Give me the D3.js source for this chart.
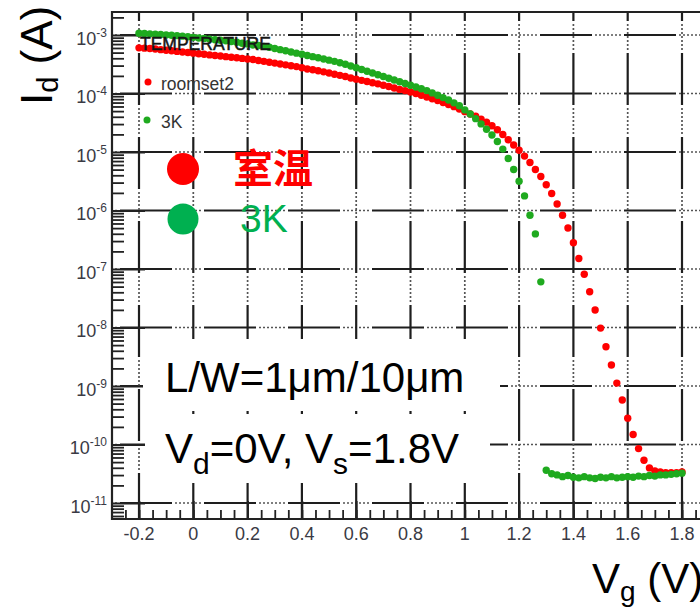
<!DOCTYPE html>
<html><head><meta charset="utf-8">
<script src="https://cdn.jsdelivr.net/npm/d3@7"></script>
<style>body{margin:0;background:#fff}svg{display:block}</style>
</head><body><svg id="c" width="700" height="608"></svg>
<script>
// ---- data ----
const vg = [-0.2,-0.18,-0.16,-0.14,-0.12,-0.1,-0.08,-0.06,-0.04,-0.02,0,0.02,0.04,0.06,0.08,0.1,0.12,0.14,0.16,0.18,0.2,0.22,0.24,0.26,0.28,0.3,0.32,0.34,0.36,0.38,0.4,0.42,0.44,0.46,0.48,0.5,0.52,0.54,0.56,0.58,0.6,0.62,0.64,0.66,0.68,0.7,0.72,0.74,0.76,0.78,0.8,0.82,0.84,0.86,0.88,0.9,0.92,0.94,0.96,0.98,1,1.02,1.04,1.06,1.08,1.1,1.12,1.14,1.16,1.18,1.2,1.22,1.24,1.26,1.28,1.3,1.32,1.34,1.36,1.38,1.4,1.42,1.44,1.46,1.48,1.5,1.52,1.54,1.56,1.58,1.6,1.62,1.64,1.66,1.68,1.7,1.72,1.74,1.76,1.78,1.8];
// log10(Id [A])
const logIdRoom = [-3.22,-3.225,-3.23,-3.24,-3.25,-3.26,-3.27,-3.28,-3.29,-3.30,-3.31,-3.32,-3.33,-3.34,-3.35,-3.36,-3.37,-3.38,-3.39,-3.40,-3.41,-3.42,-3.435,-3.45,-3.465,-3.48,-3.495,-3.51,-3.525,-3.54,-3.56,-3.58,-3.595,-3.61,-3.63,-3.65,-3.67,-3.69,-3.71,-3.735,-3.755,-3.775,-3.795,-3.815,-3.835,-3.86,-3.88,-3.905,-3.93,-3.95,-3.975,-4.00,-4.03,-4.06,-4.09,-4.12,-4.155,-4.19,-4.225,-4.265,-4.31,-4.35,-4.39,-4.44,-4.49,-4.55,-4.62,-4.70,-4.79,-4.88,-4.97,-5.07,-5.18,-5.30,-5.42,-5.56,-5.71,-5.89,-6.08,-6.30,-6.55,-6.82,-7.09,-7.39,-7.70,-8.01,-8.33,-8.64,-8.95,-9.24,-9.55,-9.83,-10.07,-10.27,-10.40,-10.45,-10.47,-10.48,-10.48,-10.48,-10.47];
const logId3K = [-2.97,-2.975,-2.98,-2.985,-2.99,-3.00,-3.005,-3.01,-3.02,-3.03,-3.04,-3.05,-3.06,-3.07,-3.08,-3.09,-3.10,-3.11,-3.125,-3.14,-3.155,-3.17,-3.18,-3.195,-3.21,-3.23,-3.25,-3.27,-3.29,-3.31,-3.33,-3.35,-3.37,-3.39,-3.41,-3.43,-3.45,-3.475,-3.50,-3.53,-3.56,-3.59,-3.62,-3.65,-3.68,-3.71,-3.74,-3.77,-3.80,-3.83,-3.86,-3.89,-3.92,-3.95,-3.99,-4.03,-4.07,-4.11,-4.16,-4.21,-4.28,-4.35,-4.43,-4.52,-4.61,-4.71,-4.82,-4.95,-5.11,-5.30,-5.50,-5.75,-6.08,-6.40,-7.22,-10.44,-10.50,-10.52,-10.55,-10.53,-10.56,-10.57,-10.55,-10.57,-10.58,-10.56,-10.57,-10.55,-10.57,-10.56,-10.55,-10.56,-10.54,-10.55,-10.53,-10.54,-10.52,-10.52,-10.51,-10.50,-10.49];
const xTicks = [-0.2,0,0.2,0.4,0.6,0.8,1,1.2,1.4,1.6,1.8];
const xTickLabels = ["-0.2","0","0.2","0.4","0.6","0.8","1","1.2","1.4","1.6","1.8"];
const yExponents = [-3,-4,-5,-6,-7,-8,-9,-10,-11];
const seriesNames = ["roomset2","3K"];
const legendHeader = "TEMPERATURE";
const bigLegendLabels = ["室温","3K"];
const noteLine1 = "L/W=1μm/10μm";

// ---- layout ----
const svg = d3.select("#c");
const L = 112, T = 12, B = 519, R = 712;
const x = d3.scaleLinear().domain([-0.2, 1.8]).range([139, 682]);
const y = d3.scaleLog().domain([1e-3, 1e-11]).range([35, 503]);

svg.append("rect").attr("width",700).attr("height",608).attr("fill","#fff");

// ---- grid (long dash + dotted pattern) ----
const solidDash = "52,32";
const dotDash = "0,55,2,2,2,2,2,2,2,2,2,2,2,2,2,3";
const grid = svg.append("g");
function gridLine(x1,y1,x2,y2,off){
  grid.append("line").attr("x1",x1).attr("y1",y1).attr("x2",x2).attr("y2",y2)
    .attr("stroke","#1e1e1e").attr("stroke-width",2.2).attr("stroke-dasharray",solidDash).attr("stroke-dashoffset",off);
  grid.append("line").attr("x1",x1).attr("y1",y1).attr("x2",x2).attr("y2",y2)
    .attr("stroke","#555").attr("stroke-width",1.7).attr("stroke-dasharray",dotDash).attr("stroke-dashoffset",off);
}
yExponents.forEach(e => { const yy = y(Math.pow(10,e)); gridLine(L, yy, R, yy, 76); });
xTicks.forEach(v => { const xx = x(v); gridLine(xx, T, xx, B, 43); });

// ---- axes ticks ----
const minorY = [];
for (let e = -12; e <= -3; e++) for (let m = 2; m <= 9; m++) {
  const v = m*Math.pow(10,e); const p = y(v); if (p > T+1 && p < B-1) minorY.push(v);
}
const majorY = yExponents.map(e => Math.pow(10,e));
function styleAxis(g){ g.select(".domain").remove(); g.selectAll("line").attr("stroke","#222").attr("stroke-width",1.8); g.selectAll("text").remove(); }
svg.append("g").attr("transform",`translate(${L},0)`).call(d3.axisLeft(y).tickValues(minorY).tickSize(-12).tickFormat("")).call(styleAxis);
svg.append("g").attr("transform",`translate(${L},0)`).call(d3.axisLeft(y).tickValues(majorY).tickSize(-33).tickFormat("")).call(styleAxis);
const minorX = [];
for (let k = -5; k <= 37; k++) { const v = k*0.05; const p = x(v); if (p > L+2 && p < R) minorX.push(v); }
svg.append("g").attr("transform",`translate(0,${B})`).call(d3.axisBottom(x).tickValues(minorX).tickSize(-9).tickFormat("")).call(styleAxis);
svg.append("g").attr("transform",`translate(0,${B})`).call(d3.axisBottom(x).tickValues(xTicks).tickSize(-18).tickFormat("")).call(styleAxis);

// frame
const frame = svg.append("g").attr("stroke","#222").attr("stroke-width",2.2);
frame.append("line").attr("x1",L).attr("y1",T-1).attr("x2",L).attr("y2",B+1);
frame.append("line").attr("x1",L).attr("y1",T).attr("x2",R).attr("y2",T);
frame.append("line").attr("x1",L).attr("y1",B).attr("x2",R).attr("y2",B);

// tick labels
const labCol = "#3a3a44";
const lf = "Liberation Sans, Arial, sans-serif";
yExponents.forEach(e => {
  const t = svg.append("text").attr("x",107).attr("y",y(Math.pow(10,e))+9.5)
    .attr("text-anchor","end").attr("fill",labCol).attr("font-family",lf);
  t.append("tspan").attr("font-size",18).text("10");
  t.append("tspan").attr("font-size",12).attr("dy",-8).text(String(e));
});
xTicks.forEach((v,i) => {
  svg.append("text").attr("x",x(v)).attr("y",540).attr("text-anchor","middle")
    .attr("fill",labCol).attr("font-size",18).attr("font-family",lf).text(xTickLabels[i]);
});

// ---- data points ----
const red = "#ff0000", green = "#1faa1f";
svg.append("g").selectAll("circle").data(vg.map((v,i)=>[v,logIdRoom[i]])).join("circle")
  .attr("cx",d=>x(d[0])).attr("cy",d=>y(Math.pow(10,d[1]))).attr("r",3.7).attr("fill",red);
svg.append("g").selectAll("circle").data(vg.map((v,i)=>[v,logId3K[i]])).join("circle")
  .attr("cx",d=>x(d[0])).attr("cy",d=>y(Math.pow(10,d[1]))).attr("r",3.7).attr("fill",green);

// ---- ROOT legend ----
svg.append("text").attr("x",140).attr("y",50).attr("font-size",17.5).attr("font-family",lf)
  .attr("fill","#151515").attr("stroke","#151515").attr("stroke-width",0.5).text(legendHeader);
svg.append("circle").attr("cx",148).attr("cy",82).attr("r",3.5).attr("fill",red);
svg.append("text").attr("x",161).attr("y",90).attr("font-size",17.5).attr("font-family",lf).attr("fill","#333").text(seriesNames[0]);
svg.append("circle").attr("cx",147).attr("cy",120).attr("r",3.5).attr("fill",green);
svg.append("text").attr("x",161).attr("y",128).attr("font-size",17.5).attr("font-family",lf).attr("fill","#333").text(seriesNames[1]);

// ---- big legend ----
svg.append("circle").attr("cx",183).attr("cy",169).attr("r",16).attr("fill","#ff0000");
svg.append("circle").attr("cx",183).attr("cy",219).attr("r",15.5).attr("fill","#00b050");
svg.append("text").attr("x",233).attr("y",183).attr("font-size",40).attr("font-weight","bold")
  .attr("font-family","Noto Sans CJK SC, sans-serif").attr("fill","#ff0000").text(bigLegendLabels[0]);
svg.append("text").attr("x",240).attr("y",232).attr("font-size",39)
  .attr("font-family",lf).attr("fill","#00b050").text(bigLegendLabels[1]);

// ---- note boxes ----
svg.append("rect").attr("x",143).attr("y",339).attr("width",357).attr("height",72).attr("fill","#fff");
svg.append("rect").attr("x",145).attr("y",414).attr("width",345).attr("height",69).attr("fill","#fff");
svg.append("text").attr("x",165).attr("y",392).attr("font-size",42).attr("font-family",lf).attr("fill","#000").text(noteLine1);
const n2 = svg.append("text").attr("x",165).attr("y",463).attr("font-size",42).attr("font-family",lf).attr("fill","#000");
n2.append("tspan").text("V");
n2.append("tspan").attr("font-size",30).attr("dy",11).text("d");
n2.append("tspan").attr("dy",-11).text("=0V, V");
n2.append("tspan").attr("font-size",30).attr("dy",11).text("s");
n2.append("tspan").attr("dy",-11).text("=1.8V");

// ---- axis titles ----
const yt = svg.append("text").attr("transform","translate(52,105) rotate(-90)").attr("font-size",44).attr("font-family",lf).attr("fill","#000");
yt.append("tspan").text("I");
yt.append("tspan").attr("font-size",29).attr("dy",6).text("d");
yt.append("tspan").attr("dy",-6).text(" (A)");
const xt = svg.append("text").attr("x",592).attr("y",593).attr("font-size",42).attr("font-family",lf).attr("fill","#000");
xt.append("tspan").text("V");
xt.append("tspan").attr("font-size",28).attr("dy",8).text("g");
xt.append("tspan").attr("dy",-8).text(" (V)");
</script></body></html>
